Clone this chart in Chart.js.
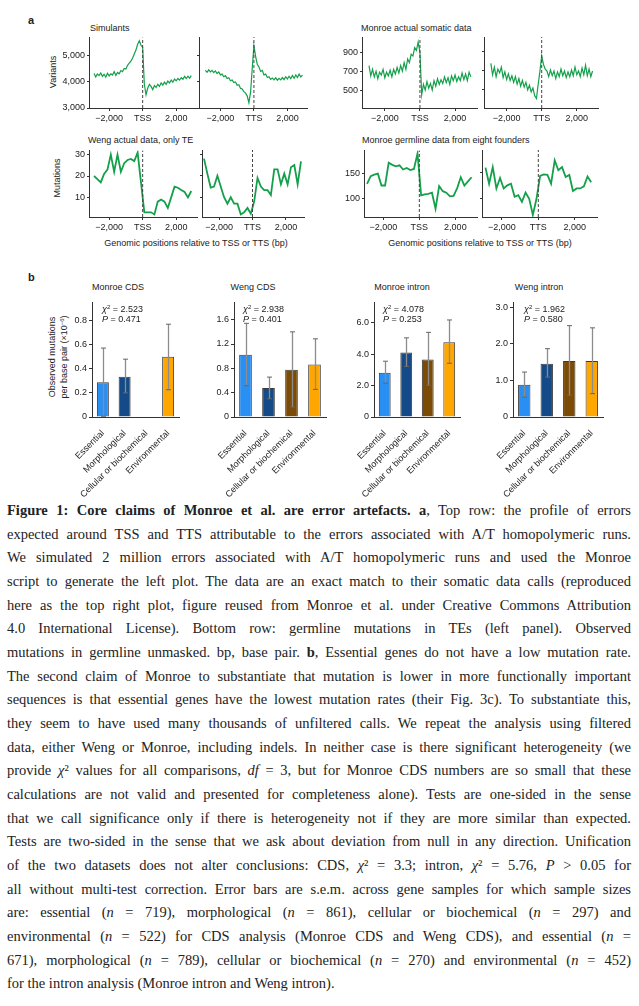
<!DOCTYPE html>
<html>
<head>
<meta charset="utf-8">
<script src="https://cdn.jsdelivr.net/npm/chart.js@4.4.1/dist/chart.umd.min.js"></script>
<style>
  body { margin: 0; background: #fff; }
  #page { position: relative; width: 639px; height: 1006px; overflow: hidden; font-family: "Liberation Sans", Arial, sans-serif; color: #222; }
  canvas { position: absolute; }
  .t { position: absolute; font-size: 9px; line-height: 9px; white-space: nowrap; }
  .c { transform: translateX(-50%); }
  .letter { position: absolute; font-weight: bold; font-size: 11px; line-height: 11px; }
  .rot { position: absolute; transform: rotate(-90deg); text-align: center; font-size: 9px; line-height: 10px; white-space: nowrap; }
  .sup { font-size: 6px; vertical-align: 3px; }
  #cap { position: absolute; left: 7px; top: 499px; width: 624px; font-family: "Liberation Serif", serif; font-size: 14.5px; line-height: 23.67px; color: #222; }
  #cap div { white-space: nowrap; }
</style>
</head>
<body>
<div id="page">
  <div class="letter" style="left:28px;top:15px">a</div>
  <div class="t" style="left:90px;top:24px">Simulants</div>
  <div class="t" style="left:361px;top:24px">Monroe actual somatic data</div>
  <div class="t" style="left:88px;top:136px">Weng actual data, only TE</div>
  <div class="t" style="left:362px;top:136px">Monroe germline data from eight founders</div>
  <div class="rot" style="left:23px;top:67px;width:60px">Variants</div>
  <div class="rot" style="left:27px;top:173px;width:60px">Mutations</div>
  <div class="t c" style="left:196px;top:239px">Genomic positions relative to TSS or TTS (bp)</div>
  <div class="t c" style="left:480px;top:239px">Genomic positions relative to TSS or TTS (bp)</div>

  <div class="letter" style="left:28px;top:272px">b</div>
  <div class="t c" style="left:118px;top:283px">Monroe CDS</div>
  <div class="t c" style="left:253px;top:283px">Weng CDS</div>
  <div class="t c" style="left:402px;top:283px">Monroe intron</div>
  <div class="t c" style="left:539px;top:283px">Weng intron</div>
  <div class="rot" style="left:7px;top:347px;width:100px;height:20px">Observed mutations<br>per base pair (×10<span class="sup">−6</span>)</div>

  <div id="cap">
    <div><span><b>Figure 1: Core claims of Monroe et al. are error artefacts. a</b>, Top row: the profile of errors</span></div>
    <div><span>expected around TSS and TTS attributable to the errors associated with A/T homopolymeric runs.</span></div>
    <div><span>We simulated 2 million errors associated with A/T homopolymeric runs and used the Monroe</span></div>
    <div><span>script to generate the left plot. The data are an exact match to their somatic data calls (reproduced</span></div>
    <div><span>here as the top right plot, figure reused from Monroe et al. under Creative Commons Attribution</span></div>
    <div><span>4.0 International License). Bottom row: germline mutations in TEs (left panel). Observed</span></div>
    <div><span>mutations in germline unmasked. bp, base pair. <b>b</b>, Essential genes do not have a low mutation rate.</span></div>
    <div><span>The second claim of Monroe to substantiate that mutation is lower in more functionally important</span></div>
    <div><span>sequences is that essential genes have the lowest mutation rates (their Fig. 3c). To substantiate this,</span></div>
    <div><span>they seem to have used many thousands of unfiltered calls. We repeat the analysis using filtered</span></div>
    <div><span>data, either Weng or Monroe, including indels. In neither case is there significant heterogeneity (we</span></div>
    <div><span>provide <i>χ</i>² values for all comparisons, <i>df</i> = 3, but for Monroe CDS numbers are so small that these</span></div>
    <div><span>calculations are not valid and presented for completeness alone). Tests are one-sided in the sense</span></div>
    <div><span>that we call significance only if there is heterogeneity not if they are more similar than expected.</span></div>
    <div><span>Tests are two-sided in the sense that we ask about deviation from null in any direction. Unification</span></div>
    <div><span>of the two datasets does not alter conclusions: CDS, <i>χ</i>² = 3.3; intron, <i>χ</i>² = 5.76, <i>P</i> &gt; 0.05 for</span></div>
    <div><span>all without multi-test correction. Error bars are s.e.m. across gene samples for which sample sizes</span></div>
    <div><span>are: essential (<i>n</i> = 719), morphological (<i>n</i> = 861), cellular or biochemical (<i>n</i> = 297) and</span></div>
    <div><span>environmental (<i>n</i> = 522) for CDS analysis (Monroe CDS and Weng CDS), and essential (<i>n</i> =</span></div>
    <div><span>671), morphological (<i>n</i> = 789), cellular or biochemical (<i>n</i> = 270) and environmental (<i>n</i> = 452)</span></div>
    <div><span>for the intron analysis (Monroe intron and Weng intron).</span></div>
  </div>
</div>
<script>
// positions (bp from TSS / TTS)
const posFine = [-2900, -2800, -2700, -2600, -2500, -2400, -2300, -2200, -2100, -2000, -1900, -1800, -1700, -1600, -1500,
  -1400, -1300, -1200, -1100, -1000, -900, -800, -700, -600, -500, -400, -300, -200, -100, 0, 100, 200, 300, 400, 500,
  600, 700, 800, 900, 1000, 1100, 1200, 1300, 1400, 1500, 1600, 1700, 1800, 1900, 2000, 2100, 2200, 2300, 2400, 2500,
  2600, 2700, 2800, 2900];
const posCoarse = [-2900, -2700, -2500, -2300, -2100, -1900, -1700, -1500, -1300, -1100, -900, -700, -500, -300, -100,
  100, 300, 500, 700, 900, 1100, 1300, 1500, 1700, 1900, 2100, 2300, 2500, 2700, 2900];
const posTicks = [-2000, 0, 2000];

// top row: simulants and Monroe somatic
const simTss = [4310, 4180, 4290, 4230, 4330, 4200, 4280, 4170, 4320, 4220, 4300, 4250, 4380, 4240, 4350, 4300, 4420,
  4380, 4500, 4480, 4620, 4700, 4780, 4900, 5050, 5200, 5420, 5550, 5380, 5300, 3900, 3500, 3750, 3900, 3820, 3700,
  3850, 3780, 3900, 3820, 3950, 3870, 3980, 3900, 4020, 3950, 4060, 3980, 4100, 4030, 4120, 4060, 4150, 4090, 4200,
  4120, 4210, 4130, 4230];
const simTts = [4420, 4350, 4440, 4360, 4420, 4340, 4400, 4300, 4360, 4250, 4280, 4180, 4220, 4110, 4140, 4030, 4060,
  3960, 3980, 3860, 3880, 3740, 3720, 3620, 3560, 3450, 3200, 3600, 4500, 5350, 4950, 4650, 4550, 4380, 4420, 4250,
  4280, 4150, 4180, 4080, 4130, 4060, 4140, 4050, 4120, 4060, 4150, 4070, 4180, 4100, 4200, 4110, 4230, 4120, 4250,
  4150, 4280, 4170, 4240];
const somTss = [760, 650, 720, 640, 700, 620, 690, 660, 720, 630, 690, 650, 710, 640, 720, 670, 740, 680, 760, 700, 790,
  720, 830, 790, 880, 860, 950, 920, 1010, 900, 450, 560, 500, 590, 520, 570, 500, 600, 540, 620, 560, 610, 570, 640,
  580, 630, 560, 650, 600, 660, 590, 640, 600, 680, 610, 670, 600, 690, 640];
const somTts = [780, 660, 740, 640, 720, 680, 740, 630, 690, 610, 670, 600, 650, 580, 640, 560, 620, 540, 600, 530, 580,
  500, 550, 480, 520, 440, 410, 560, 700, 860, 770, 720, 700, 640, 710, 650, 700, 620, 690, 640, 720, 650, 700, 630,
  690, 640, 710, 650, 740, 660, 700, 640, 730, 660, 760, 650, 720, 640, 700];

// bottom row: Weng TE and Monroe germline
const wengTss = [20, 18.5, 17, 21, 23, 30, 22, 30, 22, 26, 27.5, 28, 27, 31, 17, 3, 3, 3, 2, 8, 9, 8, 5, 10, 15, 14.5,
  13.5, 12.5, 10, 13];
const wengTts = [28, 21, 14.5, 15, 20, 15, 10, 7, 10, 7, 7, 2, 3, 5, 2.3, 8, 19, 15, 13.3, 13.3, 11, 23, 23, 16, 21, 16,
  24, 25, 16, 26.7];
const germTss = [129, 144, 147, 149, 126, 126, 170, 166, 163, 165, 157, 160, 156, 158, 188, 107, 109, 110, 112, 81, 125,
  115, 112, 105, 106, 121, 142, 126, 134, 142];
const germTts = [160, 129, 161, 120, 140, 120, 126, 129, 104, 107, 94, 112, 100, 69, 100, 144, 147, 146, 129, 174, 155,
  161, 142, 146, 115, 120, 120, 124, 143, 132];

const simTicks = [3000, 4000, 5000];
const somTicks = [500, 700, 900];
const wengTicks = [10, 20, 30];
const germTicks = [100, 150];

// panel b
const categories = ['Essential', 'Morphological', 'Cellular or biochemical', 'Environmental'];
const monroeCds = [0.289, 0.334, null, 0.5];
const monroeCdsLo = [0.006, 0.2, null, 0.226];
const monroeCdsHi = [0.572, 0.48, null, 0.77];
const wengCds = [1.023, 0.476, 0.777, 0.864];
const wengCdsLo = [0.515, 0.3, 0.164, 0.454];
const wengCdsHi = [1.54, 0.656, 1.4, 1.285];
const monroeIntron = [2.82, 4.11, 3.67, 4.77];
const monroeIntronLo = [2.16, 3.22, 2.02, 3.43];
const monroeIntronHi = [3.56, 5.05, 5.4, 6.19];
const wengIntron = [0.88, 1.46, 1.53, 1.53];
const wengIntronLo = [0.545, 1.09, 0.59, 0.64];
const wengIntronHi = [1.23, 1.87, 2.5, 2.44];
const chiValues = ['2.523', '2.938', '4.078', '1.962'];
const pValues = ['0.471', '0.401', '0.253', '0.580'];

const green = '#14a04b';
const barColors = ['#2a8ff2', '#134a87', '#7c4c07', '#ffa600'];
const page = document.getElementById('page');

Chart.defaults.font.family = '"Liberation Sans", Arial, sans-serif';
Chart.defaults.font.size = 9;
Chart.defaults.color = '#222';

function fmt(v) {
  return (v < 0 ? '\u2212' : '') + Math.abs(v).toLocaleString('en-US');
}

function addCanvas(left, top, w, h) {
  const cv = document.createElement('canvas');
  cv.width = w; cv.height = h;
  cv.style.left = left + 'px'; cv.style.top = top + 'px';
  page.appendChild(cv);
  return cv;
}

function lineChart(c) {
  const LM = c.labels ? 40 : 8, RM = 6, TM = 7, BM = 24;
  const cv = addCanvas(c.L - LM, c.T - TM, c.R - c.L + LM + RM, c.B - c.T + TM + BM);
  new Chart(cv, {
    type: 'line',
    data: {
      datasets: [
        { data: [{ x: 0, y: c.yMin }, { x: 0, y: c.yMax }], borderColor: '#444', borderWidth: 1, borderDash: [3, 2], pointRadius: 0 },
        { data: c.pos.map((p, i) => ({ x: p, y: c.vals[i] })), borderColor: green, borderWidth: c.lw, pointRadius: 0, tension: 0 }
      ]
    },
    options: {
      responsive: false, animation: false, devicePixelRatio: 1,
      layout: { padding: { top: TM, right: RM, left: 0, bottom: 0 } },
      plugins: { legend: { display: false }, tooltip: { enabled: false } },
      scales: {
        x: {
          type: 'linear', min: c.xMin, max: c.xMax,
          afterFit: s => { s.height = BM; },
          afterBuildTicks: s => { s.ticks = posTicks.map(v => ({ value: v })); },
          ticks: { autoSkip: false, maxRotation: 0, padding: 2, callback: v => v === 0 ? c.mark : fmt(v) },
          grid: { drawOnChartArea: false, tickLength: 3, color: '#333' },
          border: { color: '#333' }
        },
        y: {
          min: c.yMin, max: c.yMax,
          afterFit: s => { s.width = LM; },
          afterBuildTicks: s => { s.ticks = c.yTicks.map(v => ({ value: v })); },
          ticks: { display: c.labels, padding: 2, callback: v => fmt(v) },
          grid: { drawOnChartArea: false, tickLength: 2, color: '#333' },
          border: { color: '#333' }
        }
      }
    }
  });
}

const lineSpecs = [
  { L: 89, R: 197, T: 37, B: 108, xMin: -3200, xMax: 3240, pos: posFine, vals: simTss, yMin: 3000, yMax: 5680, yTicks: simTicks, mark: 'TSS', labels: true, lw: 1.2 },
  { L: 199, R: 307, T: 37, B: 108, xMin: -3280, xMax: 3170, pos: posFine, vals: simTts, yMin: 3000, yMax: 5680, yTicks: simTicks, mark: 'TTS', labels: false, lw: 1.2 },
  { L: 362, R: 477, T: 37, B: 108, xMin: -3300, xMax: 3250, pos: posFine, vals: somTss, yMin: 310, yMax: 1058, yTicks: somTicks, mark: 'TSS', labels: true, lw: 1.2 },
  { L: 484, R: 598, T: 37, B: 108, xMin: -3290, xMax: 3210, pos: posFine, vals: somTts, yMin: 310, yMax: 1058, yTicks: somTicks, mark: 'TTS', labels: false, lw: 1.2 },
  { L: 89, R: 197, T: 150, B: 217, xMin: -3200, xMax: 3240, pos: posCoarse, vals: wengTss, yMin: 0.8, yMax: 32, yTicks: wengTicks, mark: 'TSS', labels: true, lw: 1.8 },
  { L: 202, R: 304, T: 150, B: 217, xMin: -3020, xMax: 3080, pos: posCoarse, vals: wengTts, yMin: 0.8, yMax: 32, yTicks: wengTicks, mark: 'TTS', labels: false, lw: 1.8 },
  { L: 364, R: 477, T: 150, B: 217, xMin: -3070, xMax: 3200, pos: posCoarse, vals: germTss, yMin: 65, yMax: 194, yTicks: germTicks, mark: 'TSS', labels: true, lw: 1.8 },
  { L: 482, R: 597, T: 150, B: 217, xMin: -3090, xMax: 3220, pos: posCoarse, vals: germTts, yMin: 65, yMax: 194, yTicks: germTicks, mark: 'TTS', labels: false, lw: 1.8 }
];
lineSpecs.forEach(lineChart);

// error bars drawn on the library scales
const errorBars = {
  id: 'errorBars',
  afterDatasetsDraw(chart, args, opts) {
    const { ctx, scales: { x, y } } = chart;
    ctx.save();
    opts.lo.forEach((lo, i) => {
      if (lo == null) return;
      const px = Math.round(x.getPixelForValue(i)) + 0.5;
      const y1 = y.getPixelForValue(lo), y2 = y.getPixelForValue(opts.hi[i]);
      ctx.strokeStyle = '#8c8c8c'; ctx.lineWidth = 1.3;
      ctx.beginPath(); ctx.moveTo(px, y1); ctx.lineTo(px, y2); ctx.stroke();
      ctx.strokeStyle = '#666'; ctx.lineWidth = 1;
      [y1, y2].forEach(yy => { ctx.beginPath(); ctx.moveTo(px - 2.5, yy); ctx.lineTo(px + 2.5, yy); ctx.stroke(); });
    });
    ctx.restore();
  }
};

function barChart(c, idx) {
  const LM = 42, RM = 14, TM = 7, BM = 80, T = 302, B = 417;
  const cv = addCanvas(c.L - LM, T - TM, c.R - c.L + LM + RM, B - T + TM + BM);
  new Chart(cv, {
    type: 'bar',
    data: {
      labels: categories,
      datasets: [{ data: c.vals, backgroundColor: barColors, borderColor: '#3a3a3a', borderWidth: 1, barPercentage: 1, categoryPercentage: 0.55 }]
    },
    options: {
      responsive: false, animation: false, devicePixelRatio: 1,
      layout: { padding: { top: TM, right: RM, left: 0, bottom: 0 } },
      plugins: { legend: { display: false }, tooltip: { enabled: false }, errorBars: { lo: c.lo, hi: c.hi } },
      scales: {
        x: {
          afterFit: s => { s.height = BM; },
          grid: { display: false },
          border: { color: '#333' },
          ticks: { autoSkip: false, minRotation: 45, maxRotation: 45, padding: 3 }
        },
        y: {
          min: 0, max: c.yMax,
          afterFit: s => { s.width = LM; },
          afterBuildTicks: s => { s.ticks = c.yTicks.map(v => ({ value: v })); },
          ticks: { padding: 2, callback: v => v === 0 ? '0' : v.toFixed(1) },
          grid: { drawOnChartArea: false, tickLength: 3, color: '#333' },
          border: { color: '#333' }
        }
      }
    },
    plugins: [errorBars]
  });
  const note = document.createElement('div');
  note.className = 't';
  note.style.left = c.noteX + 'px';
  note.style.top = '302px';
  note.style.lineHeight = '10px';
  note.innerHTML = '<i>χ</i><span class="sup">2</span> = ' + chiValues[idx] + '<br><i>P</i> = ' + pValues[idx];
  page.appendChild(note);
}

const barSpecs = [
  { L: 92, R: 179, vals: monroeCds, lo: monroeCdsLo, hi: monroeCdsHi, yMax: 0.951, yTicks: [0, 0.2, 0.4, 0.6, 0.8], noteX: 102 },
  { L: 234, R: 326, vals: wengCds, lo: wengCdsLo, hi: wengCdsHi, yMax: 1.884, yTicks: [0, 0.4, 0.8, 1.2, 1.6], noteX: 243 },
  { L: 374, R: 460, vals: monroeIntron, lo: monroeIntronLo, hi: monroeIntronHi, yMax: 7.31, yTicks: [0, 2, 4, 6], noteX: 383 },
  { L: 513, R: 603, vals: wengIntron, lo: wengIntronLo, hi: wengIntronHi, yMax: 3.136, yTicks: [0, 1, 2, 3], noteX: 524 }
];
barSpecs.forEach(barChart);

// justify each caption line to the full column width
const capLines = document.querySelectorAll('#cap div');
capLines.forEach((d, i) => {
  if (i === capLines.length - 1) return;
  const s = d.firstElementChild;
  const w = s.getBoundingClientRect().width;
  const spaces = (s.textContent.match(/ /g) || []).length;
  s.style.wordSpacing = ((624 - w) / spaces) + 'px';
});
</script>
</body>
</html>
